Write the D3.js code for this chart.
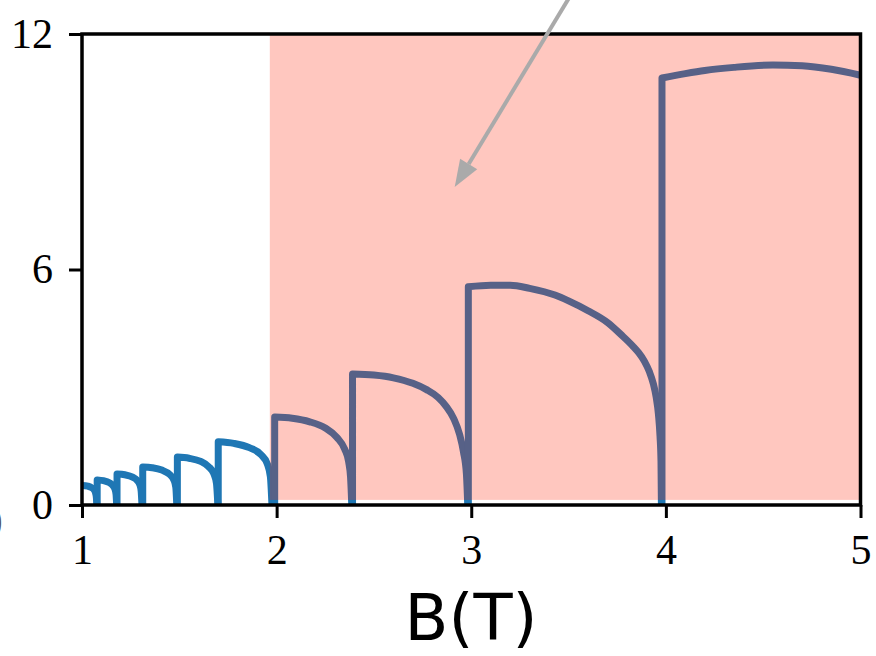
<!DOCTYPE html>
<html>
<head>
<meta charset="utf-8">
<script src="https://cdn.jsdelivr.net/npm/d3@7"></script>
<style>
  body { margin: 0; background: #fff; }
</style>
</head>
<body>
<svg id="chart" width="876" height="656"></svg>
<script>
const width = 876;
const height = 656;

// field (T) sample points for each step of the curve
const archField = [
  [1.0, 1.03, 1.05, 1.063, 1.07, 1.074, 1.076],
  [1.078, 1.11, 1.14, 1.158, 1.169, 1.175, 1.178],
  [1.18, 1.22, 1.26, 1.283, 1.297, 1.304, 1.308],
  [1.312, 1.36, 1.41, 1.45, 1.472, 1.482, 1.487],
  [1.49, 1.55, 1.61, 1.65, 1.677, 1.691, 1.698],
  [1.70, 1.78, 1.86, 1.92, 1.952, 1.968, 1.976],
  [1.99, 2.08, 2.17, 2.25, 2.31, 2.35, 2.37, 2.38, 2.386],
  [2.39, 2.5, 2.6, 2.7, 2.77, 2.83, 2.87, 2.91, 2.94, 2.96, 2.975, 2.982],
  [2.985, 3.1, 3.2, 3.3, 3.43, 3.5, 3.6, 3.7, 3.77, 3.83, 3.86, 3.89, 3.915, 3.935, 3.95, 3.962, 3.97, 3.975, 3.977],
  [3.98, 4.1, 4.2, 4.35, 4.55, 4.7, 4.85, 5.0]
];
const archValue = [
  [0.50, 0.48, 0.44, 0.38, 0.30, 0.18, 0],
  [0.64, 0.62, 0.57, 0.50, 0.41, 0.27, 0],
  [0.79, 0.77, 0.71, 0.63, 0.52, 0.35, 0],
  [0.97, 0.95, 0.89, 0.78, 0.64, 0.45, 0],
  [1.22, 1.19, 1.11, 0.98, 0.80, 0.55, 0],
  [1.61, 1.57, 1.46, 1.28, 1.05, 0.72, 0],
  [2.24, 2.21, 2.12, 1.96, 1.72, 1.42, 1.10, 0.70, 0],
  [3.34, 3.31, 3.24, 3.10, 2.94, 2.74, 2.52, 2.20, 1.80, 1.35, 0.80, 0],
  [5.56, 5.60, 5.60, 5.52, 5.35, 5.20, 4.95, 4.65, 4.34, 4.05, 3.88, 3.66, 3.40, 3.10, 2.75, 2.30, 1.75, 1.10, 0],
  [10.88, 10.99, 11.07, 11.15, 11.21, 11.19, 11.10, 10.95]
];

const fieldTicks = [1, 2, 3, 4, 5];
const valueTicks = [0, 6, 12];
const shadedField = [1.965, 5];
const shadedValue = [0.13, 12];
const arrowFrom = [3.5, 12.9];
const arrowTo = [2.915, 8.1];

const margin = {left: 82, right: 15.5, top: 34, bottom: 151};

const x = d3.scaleLinear().domain([1, 5]).range([margin.left, width - margin.right]);
const y = d3.scaleLinear().domain([0, 12]).range([height - margin.bottom, margin.top]);

const svg = d3.select('#chart');

svg.append('defs').append('clipPath')
    .attr('id', 'plot-clip')
  .append('rect')
    .attr('x', x(1))
    .attr('y', y(12))
    .attr('width', x(5) - x(1))
    .attr('height', y(0) - y(12));

const plot = svg.append('g').attr('clip-path', 'url(#plot-clip)');

const line = d3.line()
    .x(d => x(d[0]))
    .y(d => y(d[1]))
    .curve(d3.curveMonotoneX);

// each step: vertical rise from zero, then the arch back down
archField.forEach((fields, i) => {
    const pts = fields.map((b, j) => [b, archValue[i][j]]);
    let path = line(pts);
    if (i > 0) {
        path = 'M' + x(pts[0][0]) + ',' + y(0) + 'L' + path.slice(1);
    }
    plot.append('path')
        .attr('d', path)
        .attr('fill', 'none')
        .attr('stroke', '#1f77b4')
        .attr('stroke-width', 7)
        .attr('stroke-linejoin', 'round')
        .attr('stroke-linecap', 'square');
});

// translucent red band on top of the curve
svg.append('rect')
    .attr('x', x(shadedField[0]))
    .attr('y', y(shadedValue[1]))
    .attr('width', x(shadedField[1]) - x(shadedField[0]))
    .attr('height', y(shadedValue[0]) - y(shadedValue[1]))
    .attr('fill', '#ff1e00')
    .attr('fill-opacity', 0.25);

// axes
const xAxis = svg.append('g')
    .attr('transform', 'translate(0,' + y(0) + ')')
    .call(d3.axisBottom(x).tickValues(fieldTicks).tickSize(13).tickSizeOuter(0).tickPadding(16).tickFormat(d3.format('d')));

const yAxis = svg.append('g')
    .attr('transform', 'translate(' + x(1) + ',0)')
    .call(d3.axisLeft(y).tickValues(valueTicks).tickSize(13).tickSizeOuter(0).tickPadding(16).tickFormat(d3.format('d')));

[xAxis, yAxis].forEach(g => {
    g.select('.domain').remove();
    g.selectAll('.tick line').attr('stroke', '#000').attr('stroke-width', 3);
    g.selectAll('.tick text')
        .attr('fill', '#000')
        .style('font-family', '"Liberation Serif", "DejaVu Serif", serif')
        .style('font-size', '42px');
});

svg.append('rect')
    .attr('x', x(1))
    .attr('y', y(12))
    .attr('width', x(5) - x(1))
    .attr('height', y(0) - y(12))
    .attr('fill', 'none')
    .attr('stroke', '#000')
    .attr('stroke-width', 3.5);

// arrow annotation
const tip = [x(arrowTo[0]), y(arrowTo[1])];
const tail = [x(arrowFrom[0]), y(arrowFrom[1])];
const len = Math.hypot(tail[0] - tip[0], tail[1] - tip[1]);
const ux = (tail[0] - tip[0]) / len, uy = (tail[1] - tip[1]) / len;
const headLen = 27, headHalf = 10;
const base = [tip[0] + ux * headLen, tip[1] + uy * headLen];

svg.append('line')
    .attr('x1', tail[0]).attr('y1', tail[1])
    .attr('x2', base[0]).attr('y2', base[1])
    .attr('stroke', '#aaaaaa')
    .attr('stroke-width', 4);

svg.append('polygon')
    .attr('points', [
        tip,
        [base[0] - uy * headHalf, base[1] + ux * headHalf],
        [base[0] + uy * headHalf, base[1] - ux * headHalf]
    ].map(p => p.join(',')).join(' '))
    .attr('fill', '#aaaaaa');

// axis title
svg.append('text')
    .attr('x', 471)
    .attr('y', 640)
    .attr('text-anchor', 'middle')
    .style('font-family', '"DejaVu Sans", sans-serif')
    .style('font-size', '64px')
    .text('B(T)');

// clipped glyph at the left edge of the figure
svg.append('text')
    .attr('x', -10)
    .attr('y', 532)
    .attr('fill', '#555')
    .style('font-family', '"Liberation Serif", serif')
    .style('font-size', '38px')
    .text(')');
</script>
</body>
</html>
